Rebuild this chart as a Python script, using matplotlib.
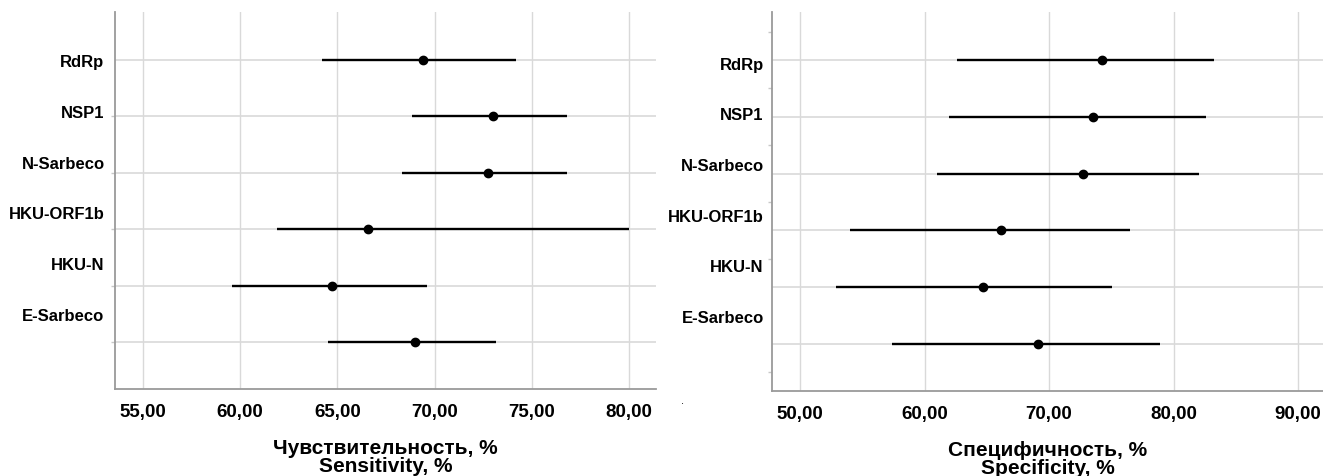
import numpy as np
import matplotlib.pyplot as plt
from matplotlib.ticker import FuncFormatter

plt.rcParams['font.family'] = ['Liberation Sans', 'DejaVu Sans']

# data
genes = ['RdRp', 'NSP1', 'N-Sarbeco', 'HKU-ORF1b', 'HKU-N', 'E-Sarbeco']

sens_point = [69.42, 72.99, 72.73, 66.57, 64.72, 69.00]
sens_low = [64.20, 68.83, 68.31, 61.87, 59.58, 64.54]
sens_high = [74.17, 76.79, 76.79, 80.00, 69.60, 73.14]
sens_ticks = [55, 60, 65, 70, 75, 80]

spec_point = [74.24, 73.57, 72.74, 66.13, 64.71, 69.13]
spec_low = [62.58, 61.99, 60.97, 54.01, 52.86, 57.36]
spec_high = [83.25, 82.59, 82.02, 76.49, 75.02, 78.90]
spec_ticks = [50, 60, 70, 80, 90]

GRID = '#d9d9d9'
SPINE = '#9a9a9a'


def comma_fmt(v, pos):
    return f'{v:.2f}'.replace('.', ',')


def forest(ax, point, low, high, ticks, xlim, ylim, label_pos, mark_pos, lab_pad, xlabel):
    rows = np.arange(len(genes))
    # gridlines
    for t in ticks:
        ax.axvline(t, color=GRID, lw=1.0, zorder=0)
    for r in rows:
        ax.axhline(r, color=GRID, lw=1.2, zorder=0)
    # intervals and points
    ax.hlines(rows, low, high, color='black', lw=1.7, zorder=2)
    ax.plot(point, rows, 'o', color='black', ms=6, zorder=3)

    ax.set_xlim(*xlim)
    ax.set_ylim(*ylim)
    ax.set_xticks(ticks)
    ax.xaxis.set_major_formatter(FuncFormatter(comma_fmt))
    ax.tick_params(axis='x', length=0, pad=10, labelsize=13.5)
    for lab in ax.get_xticklabels():
        lab.set_fontweight('bold')

    ax.set_yticks(label_pos)
    ax.set_yticklabels(genes, fontsize=12, fontweight='bold')
    ax.tick_params(axis='y', which='major', length=0, pad=lab_pad)
    ax.set_yticks(mark_pos, minor=True)
    ax.tick_params(axis='y', which='minor', length=3, color='#c8c8c8', width=1)

    for s in ['top', 'right']:
        ax.spines[s].set_visible(False)
    for s in ['left', 'bottom']:
        ax.spines[s].set_color(SPINE)
        ax.spines[s].set_linewidth(1.3)

    ax.set_xlabel(xlabel, fontsize=15, fontweight='bold', labelpad=13, linespacing=0.95)


fig = plt.figure(figsize=(13.23, 4.77), dpi=100)

n = len(genes)
ax1 = fig.add_axes([0.0869, 0.1824, 0.4089, 0.7903])
forest(ax1, sens_point, sens_low, sens_high, sens_ticks,
       (53.56, 81.39), (5.833, -0.851),
       np.arange(n) * 0.9, np.arange(n), 7.5,
       'Чувствительность, %\nSensitivity, %')

ax2 = fig.add_axes([0.5835, 0.1782, 0.4165, 0.7945])
forest(ax2, spec_point, spec_low, spec_high, spec_ticks,
       (47.75, 92.0), (5.827, -0.845),
       0.05 + np.arange(n) * 0.89, np.arange(-0.5, n + 0.5), 6,
       'Специфичность, %\nSpecificity, %')

fig.text(683 / 1323, 1 - 401 / 477, '.', fontsize=8, ha='center', va='center')

fig.savefig('out.png', dpi=100)
